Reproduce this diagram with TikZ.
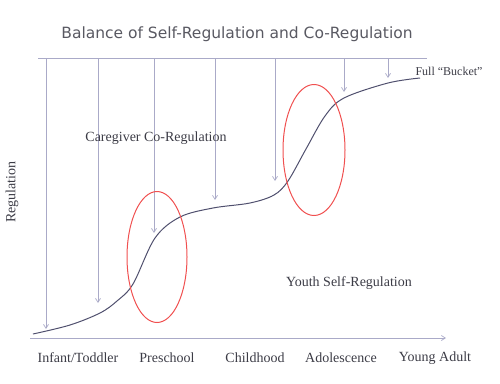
\documentclass[tikz,border=0pt]{standalone}
\usepackage{fontspec}
\setmainfont{Liberation Serif}
\newfontfamily\titlefont{DejaVu Sans}
\usetikzlibrary{arrows.meta,shapes.geometric}

\definecolor{axisgray}{RGB}{170,170,200}
\definecolor{curveslate}{RGB}{80,80,110}
\definecolor{ringred}{RGB}{240,80,80}
\definecolor{textgray}{RGB}{60,60,70}

\tikzset{
  guide/.style={axisgray, line width=0.7pt},
  drop/.style={guide, -{Straight Barb[length=4pt,width=5pt]}},
  ring/.style={ringred, line width=1pt},
  lbl/.style={textgray, font=\fontsize{14}{16}\selectfont, inner sep=0pt}
}

\begin{document}
\begin{tikzpicture}[x=1pt, y=-1pt]
  \useasboundingbox (0,0) rectangle (500,383);

  \node[textgray!85, font=\titlefont\fontsize{15.5}{18}\selectfont] (title) at (237,34) {Balance of Self-Regulation and Co-Regulation};

  % top bar and time axis
  \coordinate (topL) at (38,58);
  \coordinate (topR) at (427,58);
  \draw[guide] (topL) -- (topR);
  \coordinate (axL) at (30,338);
  \coordinate (axR) at (446,338);
  \draw[drop] (axL) -- (axR);

  % co-regulation arrows
  \coordinate (s1) at (46,59);   \coordinate (e1) at (46,329);
  \coordinate (s2) at (98,59);   \coordinate (e2) at (98,303);
  \coordinate (s3) at (154,59);  \coordinate (e3) at (154,233);
  \coordinate (s4) at (215,59);  \coordinate (e4) at (215,200);
  \coordinate (s5) at (275,59);  \coordinate (e5) at (275,181);
  \coordinate (s6) at (344,59);  \coordinate (e6) at (344,92);
  \coordinate (s7) at (388,59);  \coordinate (e7) at (388,78);
  \foreach \i in {1,...,7}
    \draw[drop] (s\i) -- (e\i);

  % growth curve
  \draw[curveslate, line width=1pt] plot[smooth, tension=0.55] coordinates {
    (33,334) (70,325) (100,313) (117,301) (133,284) (155,238) (180,217)
    (213,208) (250,203) (274,195) (288,181) (306,149) (325,116) (344,98)
    (388,83) (420,78)};

  % transition rings
  \node[ring, draw, ellipse, minimum width=60pt, minimum height=131pt, inner sep=0pt] (ringA) at (157,257) {};
  \node[ring, draw, ellipse, minimum width=62pt, minimum height=131pt, inner sep=0pt] (ringB) at (314,150) {};

  % labels
  \node[lbl] (coreg) at (156,138) {Caregiver Co-Regulation};
  \node[lbl] (selfreg) at (349,283) {Youth Self-Regulation};
  \node[lbl, font=\fontsize{12}{14}\selectfont] (bucket) at (449,71) {Full “Bucket”};
  \node[lbl, rotate=90] (ylab) at (12,192) {Regulation};

  \node[lbl] (infant) at (78,358) {Infant/Toddler};
  \node[lbl] (presch) at (167,358) {Preschool};
  \node[lbl] (child) at (255,358) {Childhood};
  \node[lbl] (adol) at (341,358) {Adolescence};
  \node[lbl] (young) at (435,358) {Young Adult};
\end{tikzpicture}
\end{document}
